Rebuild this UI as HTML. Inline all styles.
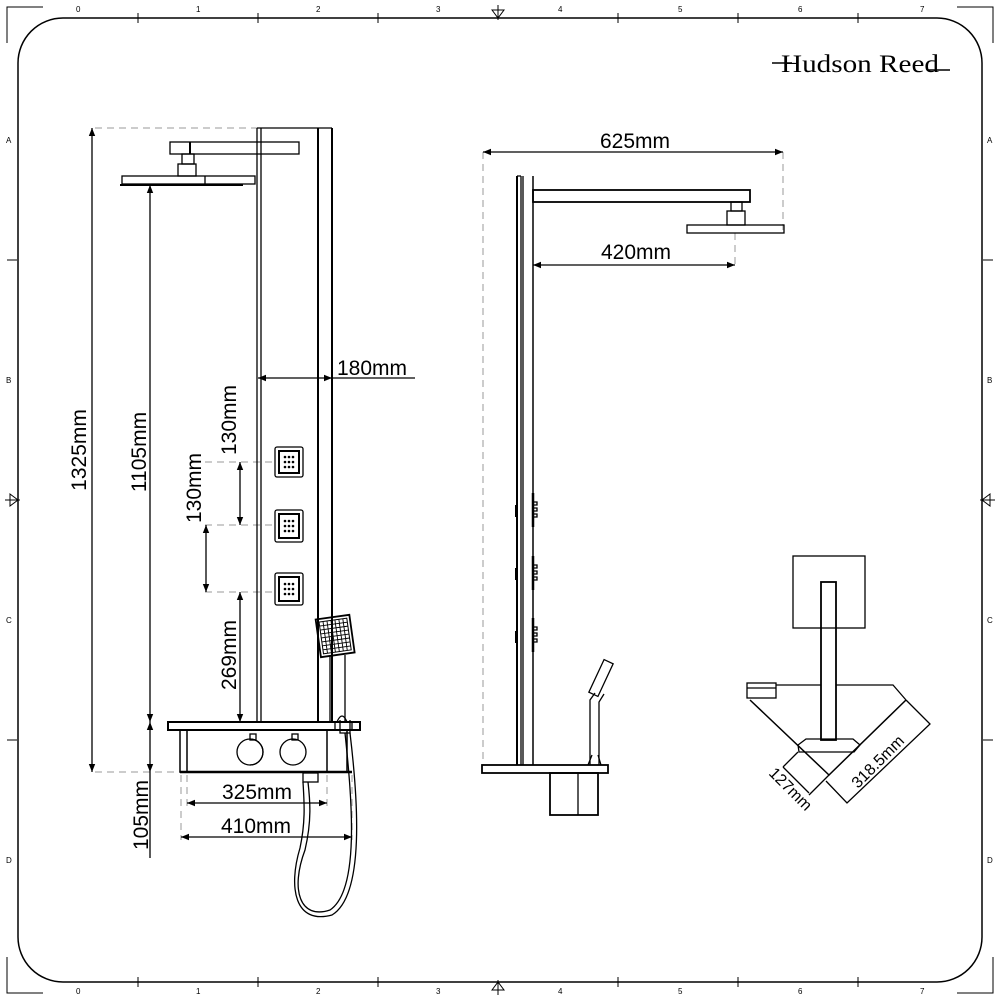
<!DOCTYPE html>
<html><head><meta charset="utf-8"><style>
html,body{margin:0;padding:0;background:#fff;width:1000px;height:1000px;overflow:hidden}
svg{display:block}
text{font-family:"Liberation Sans",Arial,sans-serif;fill:#000}
</style></head><body>
<svg width="1000" height="1000" viewBox="0 0 1000 1000" xmlns="http://www.w3.org/2000/svg">
<defs>
<marker id="a" viewBox="0 0 10 10" refX="10" refY="5" markerWidth="12" markerHeight="8" orient="auto-start-reverse" markerUnits="userSpaceOnUse"><path d="M0,1 L10,5 L0,9 z" fill="#000"/></marker>
</defs>
<g fill="none" stroke="#000">
<path d="M7,43 V7 H43 M957,7 H993 V43 M7,957 V993 H43 M957,993 H993 V957" stroke-width="1"/>
<rect x="18" y="18" width="964" height="964" rx="45" stroke-width="1.5"/>
<path d="M138,13 V23 M258,13 V23 M378,13 V23 M618,13 V23 M738,13 V23 M858,13 V23 M138,977 V987 M258,977 V987 M378,977 V987 M618,977 V987 M738,977 V987 M858,977 V987 M7,260 H17 M7,740 H17 M983,260 H993 M983,740 H993" stroke-width="1"/>
<path d="M492,10 L498,18 L504,10 z M498,5 V20 M492,990 L498,982 L504,990 z M498,980 V995 M10,494 L18,500 L10,506 z M5,500 H20 M990,494 L982,500 L990,506 z M980,500 H995" stroke-width="1"/>
</g>
<g font-size="8">
<text x="76" y="12">0</text><text x="196" y="12">1</text><text x="316" y="12">2</text><text x="436" y="12">3</text><text x="558" y="12">4</text><text x="678" y="12">5</text><text x="798" y="12">6</text><text x="920" y="12">7</text>
<text x="76" y="994">0</text><text x="196" y="994">1</text><text x="316" y="994">2</text><text x="436" y="994">3</text><text x="558" y="994">4</text><text x="678" y="994">5</text><text x="798" y="994">6</text><text x="920" y="994">7</text>
<text x="6" y="143">A</text><text x="6" y="383">B</text><text x="6" y="623">C</text><text x="6" y="863">D</text>
<text x="987" y="143">A</text><text x="987" y="383">B</text><text x="987" y="623">C</text><text x="987" y="863">D</text>
</g>
<!-- logo -->
<text x="781" y="72" font-size="25" textLength="158" lengthAdjust="spacingAndGlyphs" style="font-family:'Liberation Serif',serif">Hudson Reed</text>
<path d="M772,63 H792 M928,70 H950" stroke="#000" stroke-width="1.5"/>

<g fill="none" stroke="#bbb" stroke-width="1.5" stroke-dasharray="7,5">
<path d="M95,128 H257 M95,772 H180 M205,462 H275 M205,525 H275 M205,592 H275 M181,775 V840 M187,775 V808 M327,775 V808 M352,775 V840"/>
<path d="M483,152 V765 M783,152 V230 M735,233 V268"/>
</g>
<g fill="none" stroke="#000" stroke-width="1.3">
<path d="M257,128 H332 M257,128 V722 M261,128 V722"/>
<path d="M318,128 V722 M332,128 V722" stroke-width="2"/>
<rect x="170" y="142" width="129" height="12"/>
<path d="M190,142 V154" stroke-width="2"/>
<rect x="182" y="154" width="12" height="10"/>
<rect x="178" y="164" width="18" height="12"/>
<rect x="122" y="176" width="133" height="8"/>
<path d="M205,176 V184"/>
<path d="M120,185 H243" stroke-width="2"/>
<rect x="275" y="447" width="28" height="30" rx="2"/><rect x="279" y="451" width="20" height="22" stroke-width="2"/>
<rect x="275" y="510" width="28" height="32" rx="2"/><rect x="279" y="514" width="20" height="24" stroke-width="2"/>
<rect x="275" y="573" width="28" height="32" rx="2"/><rect x="279" y="577" width="20" height="24" stroke-width="2"/>
<rect x="168" y="722" width="192" height="8" stroke-width="2"/>
<path d="M335,722 V730 M352,722 V730"/>
<path d="M180,730 V772 H352 M187,730 V772 M327,730 V772 M347,730 V772" stroke-width="1.5"/>
<path d="M180,772 H352" stroke-width="2.5"/>
<circle cx="250" cy="752" r="13"/><path d="M250,739 a13,13 0 0 1 0,26" /><rect x="250" y="734" width="6" height="6"/><circle cx="293" cy="752" r="13"/><rect x="292" y="734" width="6" height="6"/>
<path d="M330,655 V722 M345,655 V722"/>
<path d="M340,720 V733 H350 V720" />
<path d="M337,722 q5,-12 10,0"/>
<path d="M345,733 C352,800 360,890 330,910 C300,920 290,890 305,850 C312,820 310,800 308,782 M350,733 C358,800 365,895 332,915 C295,925 288,888 300,848 C306,820 304,800 303,782"/>
<rect x="303" y="773" width="15" height="9"/>
<g transform="rotate(-8 335 635)">
<rect x="318" y="617" width="34" height="38" stroke-width="1.8"/>
<rect x="321" y="620" width="28" height="32" stroke-width="1"/>
</g>
<path d="M92,128 V772" marker-start="url(#a)" marker-end="url(#a)" stroke-width="1.3"/>
<path d="M150,185 V722" marker-start="url(#a)" marker-end="url(#a)"/>
<path d="M150,722 V772" marker-start="url(#a)" marker-end="url(#a)"/>
<path d="M150,772 V858"/>
<path d="M258,378 H332" marker-start="url(#a)" marker-end="url(#a)"/>
<path d="M332,378 H415"/>
<path d="M240,462 V525" marker-start="url(#a)" marker-end="url(#a)"/>
<path d="M206,525 V592" marker-start="url(#a)" marker-end="url(#a)"/>
<path d="M240,592 V722" marker-start="url(#a)" marker-end="url(#a)"/>
<path d="M187,803 H327" marker-start="url(#a)" marker-end="url(#a)"/>
<path d="M181,837 H352" marker-start="url(#a)" marker-end="url(#a)"/>
</g>
<g transform="rotate(-8 335 635)" fill="none" stroke="#000" stroke-width="0.9">
<path d="M321,624 H349 M321,628 H349 M321,632 H349 M321,636 H349 M321,640 H349 M321,644 H349 M321,648 H349 M325,620 V652 M329,620 V652 M333,620 V652 M337,620 V652 M341,620 V652 M345,620 V652"/>
</g>
<g fill="#000">
<circle cx="285" cy="457" r="1.3"/><circle cx="289" cy="457" r="1.3"/><circle cx="293" cy="457" r="1.3"/><circle cx="285" cy="462" r="1.3"/><circle cx="289" cy="462" r="1.3"/><circle cx="293" cy="462" r="1.3"/><circle cx="285" cy="467" r="1.3"/><circle cx="289" cy="467" r="1.3"/><circle cx="293" cy="467" r="1.3"/>
<circle cx="285" cy="521" r="1.3"/><circle cx="289" cy="521" r="1.3"/><circle cx="293" cy="521" r="1.3"/><circle cx="285" cy="526" r="1.3"/><circle cx="289" cy="526" r="1.3"/><circle cx="293" cy="526" r="1.3"/><circle cx="285" cy="531" r="1.3"/><circle cx="289" cy="531" r="1.3"/><circle cx="293" cy="531" r="1.3"/>
<circle cx="285" cy="584" r="1.3"/><circle cx="289" cy="584" r="1.3"/><circle cx="293" cy="584" r="1.3"/><circle cx="285" cy="589" r="1.3"/><circle cx="289" cy="589" r="1.3"/><circle cx="293" cy="589" r="1.3"/><circle cx="285" cy="594" r="1.3"/><circle cx="289" cy="594" r="1.3"/><circle cx="293" cy="594" r="1.3"/>
</g>
<g font-size="21">
<text transform="translate(86,450) rotate(-90)" text-anchor="middle">1325mm</text>
<text transform="translate(146,452) rotate(-90)" text-anchor="middle">1105mm</text>
<text transform="translate(236,420) rotate(-90)" text-anchor="middle">130mm</text>
<text transform="translate(201,488) rotate(-90)" text-anchor="middle">130mm</text>
<text transform="translate(236,655) rotate(-90)" text-anchor="middle">269mm</text>
<text transform="translate(148,815) rotate(-90)" text-anchor="middle">105mm</text>
<text x="337" y="375">180mm</text>
<text x="257" y="799" text-anchor="middle">325mm</text>
<text x="256" y="833" text-anchor="middle">410mm</text>
<text x="635" y="148" text-anchor="middle">625mm</text>
<text x="636" y="259" text-anchor="middle">420mm</text>
</g>

<g fill="none" stroke="#000" stroke-width="1.3">
<path d="M517,176 H521 M517,176 V765 M521,176 V765 M523,176 V765" />
<path d="M517,176 V765" stroke-width="2"/>
<path d="M533,176 V765" stroke-width="1.5"/>
<rect x="533" y="190" width="217" height="12" stroke-width="1.8"/>
<rect x="731" y="202" width="11" height="9"/>
<rect x="727" y="211" width="18" height="14"/>
<rect x="687" y="225" width="97" height="8"/>
<path d="M483,152 H783" marker-start="url(#a)" marker-end="url(#a)"/>
<path d="M533,265 H735" marker-start="url(#a)" marker-end="url(#a)"/>
<rect x="482" y="765" width="126" height="8" stroke-width="1.8"/>
<rect x="550" y="773" width="48" height="42" stroke-width="1.8"/>
<path d="M578,773 V815"/>
<path d="M533,493 V527 M533,556 V590 M533,618 V652" stroke-width="2.5"/>
<path d="M533,502 h4 v3 h-4 M533,508 h4 v3 h-4 M533,514 h4 v3 h-4 M533,565 h4 v3 h-4 M533,571 h4 v3 h-4 M533,577 h4 v3 h-4 M533,627 h4 v3 h-4 M533,633 h4 v3 h-4 M533,639 h4 v3 h-4"/>
<path d="M590,765 V700 L595,693 M599,765 V702 L604,694"/>
<path d="M588,765 L592,755 M601,765 L598,755"/>
<g transform="rotate(25 601 678)"><rect x="596" y="660" width="10" height="36"/></g>
</g>
<path d="M515,505 h3 v12 h-3 z M515,568 h3 v12 h-3 z M515,631 h3 v12 h-3 z" fill="#000"/>

<g fill="none" stroke="#000" stroke-width="1.3">
<rect x="793" y="556" width="72" height="72"/>
<rect x="821" y="582" width="15" height="158" stroke-width="1.8"/>
<rect x="747" y="683" width="29" height="15"/>
<path d="M747,688 H776"/>
<path d="M776,685 H821 M836,685 H893 L906,700"/>
<path d="M750,700 L829,775 L906,700" stroke-width="1.5"/>
<path d="M806,739 H853 L860,745 L854,752 H799 L798,745 Z"/>
<path d="M798,752 L783,767 M783,767 L809,793 M829,775 L809,795 M906,700 L930,724 L847,803 L826,781"/>
</g>
<g font-size="16">
<text transform="translate(768,774) rotate(45)">127mm</text>
<text transform="translate(858,789) rotate(-45)">318.5mm</text>
</g>
</svg>
</body></html>
